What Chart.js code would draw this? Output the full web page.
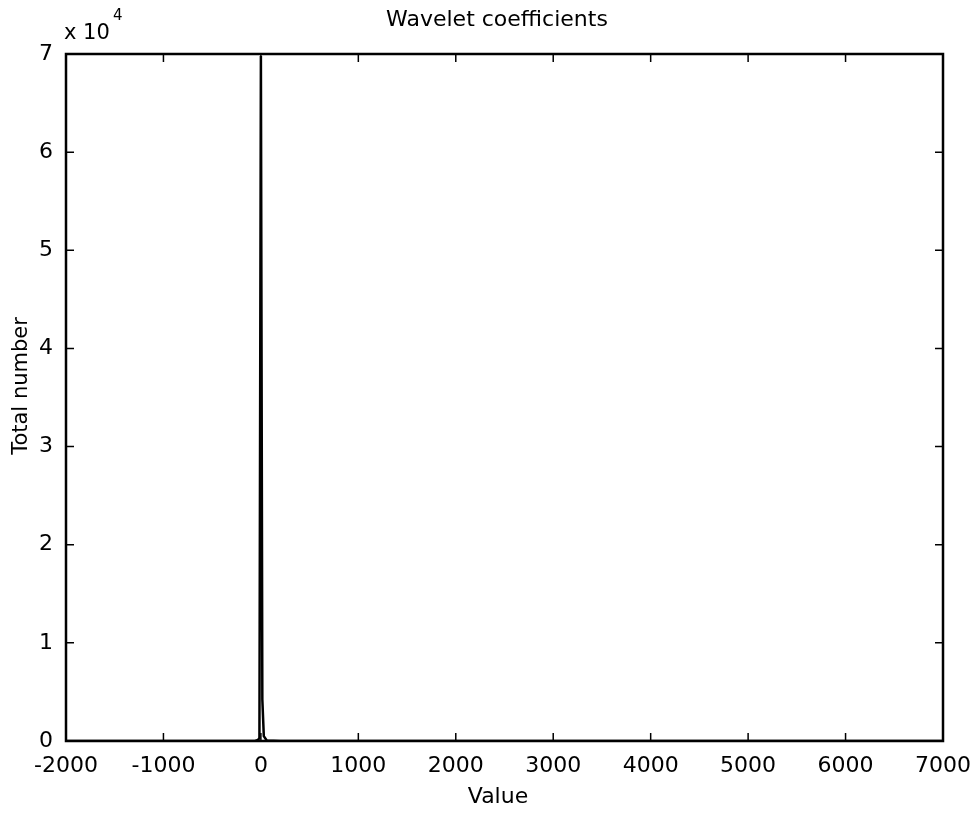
<!DOCTYPE html>
<html>
<head>
<meta charset="utf-8">
<script src="https://cdn.jsdelivr.net/npm/chart.js@4.4.0/dist/chart.umd.min.js"></script>
<style>
  html, body { margin: 0; padding: 0; background: #fff; }
  #wrap { width: 978px; height: 813px; }
</style>
</head>
<body>
<div id="wrap"><canvas id="myChart" width="978" height="813"></canvas></div>
<script>
// histogram of wavelet coefficients (bin centre -> count)
const binCenters = [-2000, -1000, -200, -60, -30, -15, 0, 15, 30, 60, 200, 1000, 2000, 3000, 4000, 5000, 6000, 7000];
const counts = [0, 0, 0, 0, 100, 300, 69800, 4200, 500, 50, 0, 0, 0, 0, 0, 0, 0, 0];
const xTicks = [-2000, -1000, 0, 1000, 2000, 3000, 4000, 5000, 6000, 7000];
const yTicks = [0, 10000, 20000, 30000, 40000, 50000, 60000, 70000];

const FONT = "'DejaVu Sans', Verdana, sans-serif";

const frame = {
  id: "frame",
  afterDatasetsDraw(chart) {
    const ctx = chart.ctx;
    const a = chart.chartArea;
    const xs = chart.scales.x;
    const ys = chart.scales.y;
    ctx.save();
    ctx.strokeStyle = "#000";
    ctx.lineWidth = 2.5;
    ctx.strokeRect(a.left, a.top, a.right - a.left, a.bottom - a.top);
    ctx.lineWidth = 1.5;
    const tl = 8;
    ctx.beginPath();
    xTicks.forEach((v) => {
      const px = xs.getPixelForValue(v);
      ctx.moveTo(px, a.bottom);
      ctx.lineTo(px, a.bottom - tl);
      ctx.moveTo(px, a.top);
      ctx.lineTo(px, a.top + tl);
    });
    yTicks.forEach((v) => {
      const py = ys.getPixelForValue(v);
      ctx.moveTo(a.left, py);
      ctx.lineTo(a.left + tl, py);
      ctx.moveTo(a.right, py);
      ctx.lineTo(a.right - tl, py);
    });
    ctx.stroke();

    ctx.fillStyle = "#000";
    ctx.textAlign = "center";
    ctx.textBaseline = "middle";
    ctx.font = "22px " + FONT;
    ctx.fillText("Wavelet coefficients", 497, 20);
    ctx.fillText("Value", 498, 797);

    ctx.textAlign = "left";
    ctx.font = "21px " + FONT;
    ctx.fillText("x 10", 64, 34);
    ctx.font = "15px " + FONT;
    ctx.fillText("4", 113, 16);

    ctx.save();
    ctx.translate(22, 386);
    ctx.rotate(-Math.PI / 2);
    ctx.textAlign = "center";
    ctx.font = "21px " + FONT;
    ctx.fillText("Total number", 0, 0);
    ctx.restore();
    ctx.restore();
  },
};

document.addEventListener("DOMContentLoaded", function () {
  const ctx = document.getElementById("myChart").getContext("2d");
  const data = {
    datasets: [
      {
        label: "Wavelet coefficients",
        data: binCenters.map((x, i) => ({ x: x, y: counts[i] })),
        borderColor: "#000",
        backgroundColor: "#000",
        borderWidth: 2.5,
        pointRadius: 0,
        fill: false,
        tension: 0,
      },
    ],
  };

  const options = {
    responsive: false,
    animation: false,
    layout: { padding: { top: 54, right: 35, left: 0, bottom: 0 } },
    scales: {
      x: {
        type: "linear",
        min: -2000,
        max: 7000,
        afterBuildTicks: (scale) => {
          scale.ticks = xTicks.map((v) => ({ value: v }));
        },
        afterFit: (scale) => {
          scale.height = 72;
          scale.paddingLeft = 0;
          scale.paddingRight = 0;
        },
        grid: { display: false, drawTicks: false },
        border: { display: false },
        ticks: {
          color: "#000",
          padding: 12,
          maxRotation: 0,
          autoSkip: false,
          font: { family: FONT, size: 22 },
          callback: (v) => String(v),
        },
      },
      y: {
        min: 0,
        max: 70000,
        afterBuildTicks: (scale) => {
          scale.ticks = yTicks.map((v) => ({ value: v }));
        },
        afterFit: (scale) => {
          scale.width = 66;
          scale.paddingTop = 0;
          scale.paddingBottom = 0;
        },
        grid: { display: false, drawTicks: false },
        border: { display: false },
        ticks: {
          color: "#000",
          padding: 13,
          autoSkip: false,
          font: { family: FONT, size: 22 },
          callback: (v) => String(v / 10000),
        },
      },
    },
    plugins: {
      legend: { display: false },
      tooltip: { enabled: false },
    },
  };

  const myChart = new Chart(ctx, {
    type: "line",
    data: data,
    options: options,
    plugins: [frame],
  });
});
</script>
</body>
</html>
